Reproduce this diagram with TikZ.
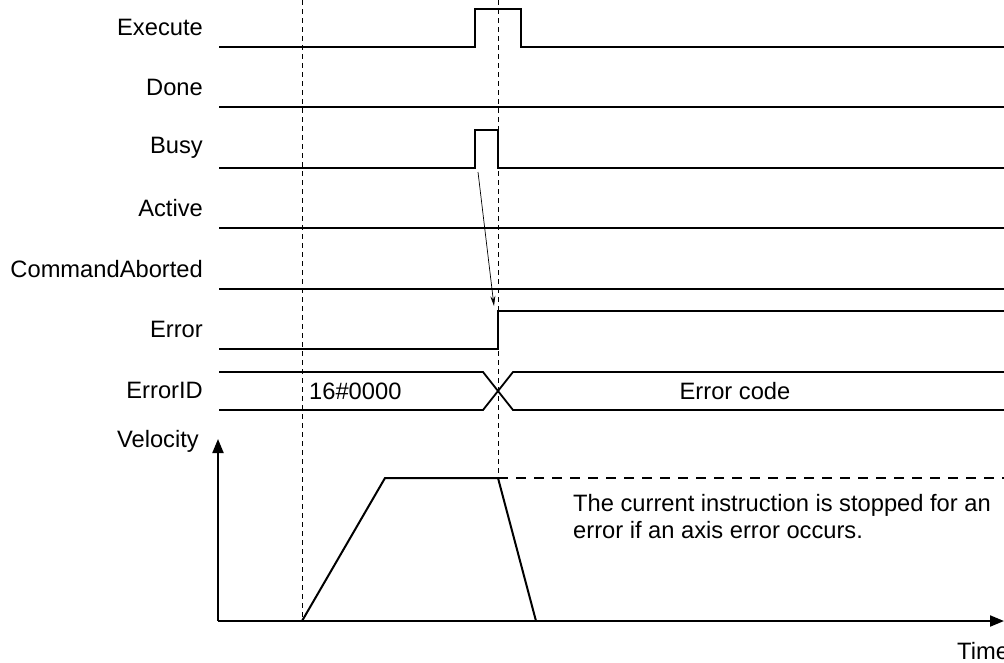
\documentclass[tikz,border=0pt]{standalone}
\usepackage{fontspec}
\setmainfont{Liberation Sans}
\usetikzlibrary{arrows.meta}
\begin{document}
\begin{tikzpicture}[x=1pt,y=-1pt,
  lbl/.style={anchor=east,inner sep=0pt,font=\fontsize{23.7}{27}\selectfont},
  txt/.style={inner sep=0pt,font=\fontsize{23.7}{27}\selectfont},
  sig/.style={line width=1.8pt,line join=miter},
  vline/.style={line width=0.8pt,dash pattern=on 5pt off 4pt},
  vel/.style={line width=2pt,line join=miter}]
\useasboundingbox (0,0) rectangle (1004,662);
% labels
\node[lbl] (lExecute) at (203,27) {Execute};
\node[lbl] (lDone) at (203,87) {Done};
\node[lbl] (lBusy) at (203,148) {Busy};
\node[lbl] (lActive) at (203,208) {Active};
\node[lbl] (lCmd) at (203,269) {CommandAborted};
\node[lbl] (lError) at (203,329) {Error};
\node[lbl] (lErrorID) at (203,390) {ErrorID};
\node[lbl] (lVel) at (199,441) {Velocity};
% vertical dashed guides
\draw[vline] (302,0) -- (302,621);
\draw[vline] (498,0) -- (498,478);
% signals
\draw[sig] (219,47) -- (475,47) -- (475,9) -- (521,9) -- (521,47) -- (1004,47);
\draw[sig] (219,107) -- (1004,107);
\draw[sig] (219,168) -- (475,168) -- (475,130) -- (498,130) -- (498,168) -- (1004,168);
\draw[sig] (219,228) -- (1004,228);
\draw[sig] (219,289) -- (1004,289);
\draw[sig] (219,349) -- (498,349) -- (498,311) -- (1004,311);
\draw[sig] (219,372) -- (483,372) -- (513,410) -- (1004,410);
\draw[sig] (219,410) -- (483,410) -- (513,372) -- (1004,372);
\node[txt,anchor=west] (v0) at (309,391) {16\#0000};
\node[txt] (vErr) at (735,391) {Error code};
% causal arrow
\coordinate (busyFall) at (478,172);
\coordinate (errRise) at (494,306);
\draw[line width=0.7pt,-{Stealth[length=10pt,width=5pt]}] (busyFall) -- (errRise);
% velocity axes
\draw[vel,-{Triangle[length=14pt,width=11pt]}] (218,621) -- (218,439);
\draw[vel,-{Triangle[length=14pt,width=11pt]}] (218,621) -- (1004,621);
\draw[vel] (302,621) -- (385,478) -- (498,478) -- (536,621);
\draw[line width=1.5pt,dash pattern=on 10pt off 8pt] (498,478) -- (1004,478);
\node[txt,anchor=north west,align=left] (note) at (573,494) {The current instruction is stopped for an\\error if an axis error occurs.};
\node[txt,anchor=west] (tTime) at (957,651) {Time};
\end{tikzpicture}
\end{document}
